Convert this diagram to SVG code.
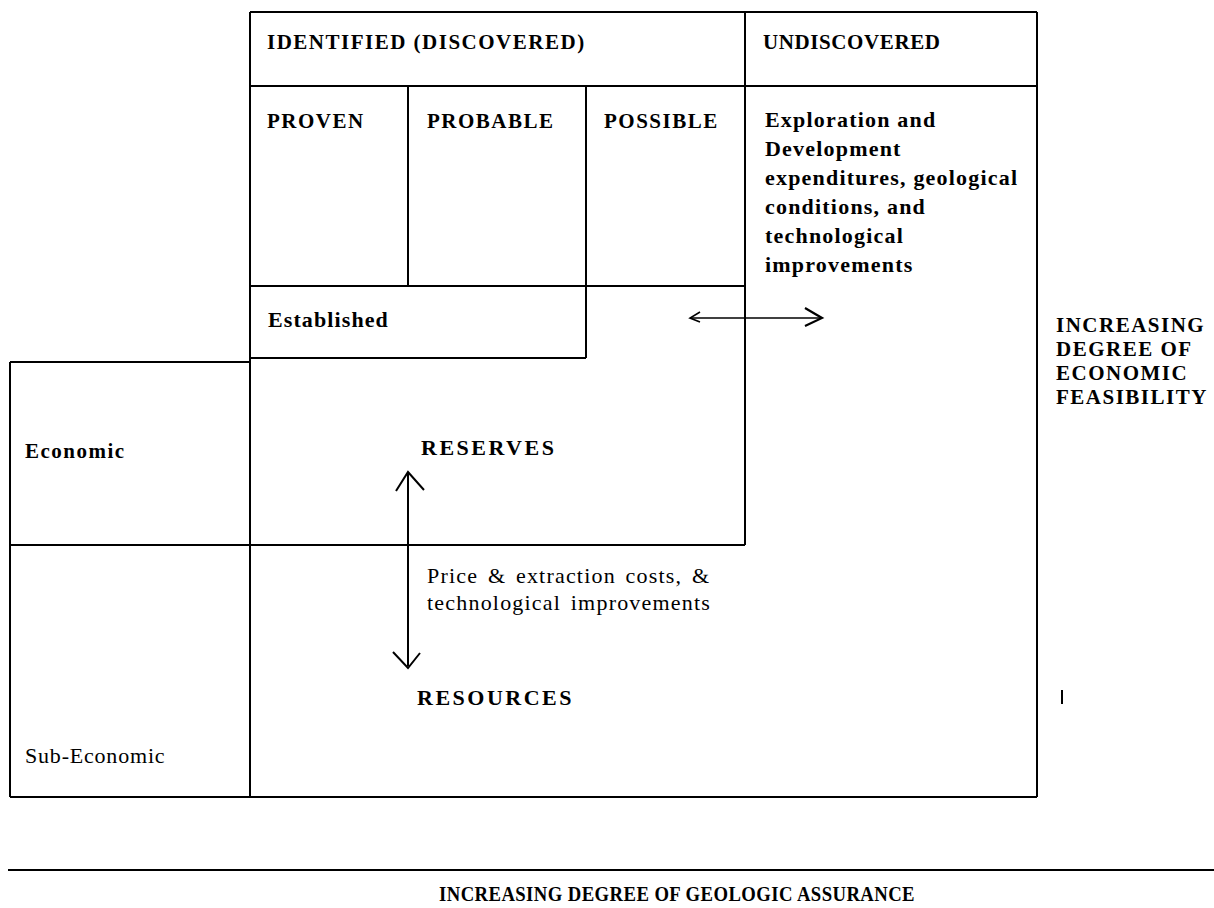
<svg xmlns="http://www.w3.org/2000/svg" width="1214" height="908" viewBox="0 0 1214 908">
<style>
.ln{stroke:#000;stroke-width:2;fill:none}
.b{font-family:"Liberation Serif","Times New Roman",serif;font-weight:bold;font-size:21px;fill:#000;letter-spacing:1.5px}
.e{font-family:"Liberation Serif","Times New Roman",serif;font-weight:bold;font-size:22px;fill:#000;letter-spacing:1.2px}
.r{font-family:"Liberation Serif","Times New Roman",serif;font-size:22px;fill:#000;letter-spacing:1.2px;word-spacing:3px}
.ar{stroke:#000;stroke-width:1.6;fill:none}
</style>
<rect width="1214" height="908" fill="#fff"/>
<g id="frame" class="ln">
<line x1="250" y1="12" x2="1037" y2="12"/>
<line x1="250" y1="86" x2="1037" y2="86"/>
<line x1="250" y1="12" x2="250" y2="797"/>
<line x1="745" y1="12" x2="745" y2="545"/>
<line x1="1037" y1="12" x2="1037" y2="797"/>
<line x1="408" y1="86" x2="408" y2="286"/>
<line x1="586" y1="86" x2="586" y2="358"/>
<line x1="250" y1="286" x2="745" y2="286"/>
<line x1="250" y1="358" x2="586" y2="358"/>
<line x1="10" y1="362" x2="250" y2="362"/>
<line x1="10" y1="545" x2="745" y2="545"/>
<line x1="10" y1="362" x2="10" y2="797"/>
<line x1="10" y1="797" x2="1037" y2="797"/>
<line x1="8" y1="870" x2="1214" y2="870"/>
<line x1="1062" y1="690" x2="1062" y2="704"/>
</g>
<g id="identified"><text class="b" x="267" y="49">IDENTIFIED  (DISCOVERED)</text></g>
<g id="undiscovered"><text class="b" x="763" y="49" style="letter-spacing:0.6px">UNDISCOVERED</text></g>
<g id="proven"><text class="b" x="267" y="128">PROVEN</text></g>
<g id="probable"><text class="b" x="427" y="128">PROBABLE</text></g>
<g id="possible"><text class="b" x="604" y="128">POSSIBLE</text></g>
<g id="exploration">
<text class="e" x="765" y="127">Exploration and</text>
<text class="e" x="765" y="156">Development</text>
<text class="e" x="765" y="185">expenditures, geological</text>
<text class="e" x="765" y="214">conditions, and</text>
<text class="e" x="765" y="243">technological</text>
<text class="e" x="765" y="272">improvements</text>
</g>
<g id="established"><text class="e" x="268" y="327" style="letter-spacing:1.1px">Established</text></g>
<g id="economic-axis">
<text class="b" x="1056" y="332">INCREASING</text>
<text class="b" x="1056" y="356">DEGREE OF</text>
<text class="b" x="1056" y="380">ECONOMIC</text>
<text class="b" x="1056" y="404">FEASIBILITY</text>
</g>
<g id="economic"><text class="e" x="25" y="458" style="font-size:21px;letter-spacing:1.5px">Economic</text></g>
<g id="reserves"><text class="b" x="421" y="455" style="font-size:22px;letter-spacing:2.5px">RESERVES</text></g>
<g id="price"><text class="r" x="427" y="583">Price &amp; extraction costs, &amp;</text><text class="r" x="427" y="610">technological improvements</text></g>
<g id="resources"><text class="b" x="417" y="705" style="font-size:22px;letter-spacing:2.5px">RESOURCES</text></g>
<g id="subeconomic"><text class="r" x="25" y="763" style="letter-spacing:0.8px">Sub-Economic</text></g>
<g id="geologic"><text class="b" transform="translate(677,901) scale(0.85,1)" x="0" y="0" text-anchor="middle" style="font-size:22px;letter-spacing:0.5px">INCREASING DEGREE OF GEOLOGIC ASSURANCE</text></g>
<g id="connectors">
<line class="ar" x1="690" y1="318" x2="820" y2="318"/>
<polyline class="ar" points="700,312 690,318 700,322"/>
<polyline class="ar" points="805,308 822,318 805,326" style="stroke-width:2.2"/>
<line class="ar" x1="408" y1="472" x2="408" y2="666" style="stroke-width:2"/>
<polyline class="ar" points="396,491 408,472 424,490" style="stroke-width:2"/>
<polyline class="ar" points="393,652 408,668 420,653" style="stroke-width:2"/>
</g>
</svg>
